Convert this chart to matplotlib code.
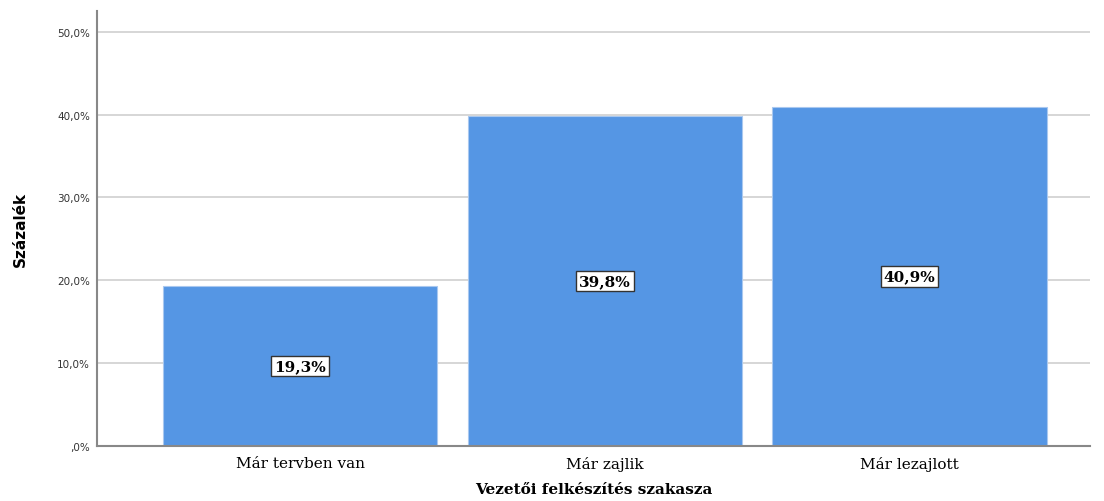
import matplotlib.pyplot as plt
import numpy as np

categories = ["Már tervben van", "Már zajlik", "Már lezajlott"]
values = [19.3, 39.8, 40.9]
yticks = [0, 10, 20, 30, 40, 50]
ytick_labels = [",0%", "10,0%", "20,0%", "30,0%", "40,0%", "50,0%"]

fig = plt.figure(figsize=(11.04, 5.02), dpi=100)
ax = fig.add_axes([0.0879, 0.1096, 0.8994, 0.8665])

x = np.arange(len(categories))
ax.bar(x, values, width=0.9, color="#5596e4", edgecolor="#a9c8ef", linewidth=0.8, zorder=2)

for xi, v in zip(x, values):
    ax.text(xi, v / 2, f"{v:.1f}%".replace(".", ","), ha="center", va="center",
            fontsize=11, fontweight="bold", family="DejaVu Serif", zorder=3,
            bbox=dict(boxstyle="square,pad=0.2", facecolor="white", edgecolor="#333333", linewidth=1))

ax.set_xlim(-0.666, 2.592)
ax.set_ylim(0, 52.5)
ax.set_yticks(yticks)
ax.set_yticklabels(ytick_labels, fontsize=7.5, color="#333333", family="DejaVu Sans")
ax.set_xticks(x)
ax.set_xticklabels(categories, fontsize=11, family="DejaVu Serif")
ax.tick_params(axis="x", length=0, pad=7)
ax.tick_params(axis="y", length=0, pad=5)
ax.yaxis.grid(True, color="#d0d0d0", linewidth=1.2, zorder=0)
ax.set_axisbelow(True)

for s in ["top", "right"]:
    ax.spines[s].set_visible(False)
ax.spines["left"].set_color("#888888")
ax.spines["left"].set_linewidth(1.5)
ax.spines["bottom"].set_color("#888888")
ax.spines["bottom"].set_linewidth(1.5)

ax.set_xlabel("Vezetői felkészítés szakasza", fontsize=11, fontweight="bold",
              family="DejaVu Serif", labelpad=8)
ax.set_ylabel("Százalék", fontsize=11, fontweight="bold", family="DejaVu Sans", labelpad=21)

fig.savefig("out.png", dpi=100)
